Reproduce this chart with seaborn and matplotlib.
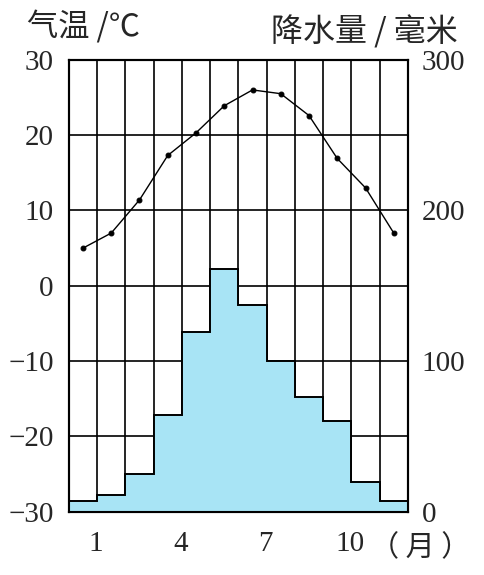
import numpy as np
import pandas as pd
import seaborn as sns
import matplotlib.pyplot as plt

# 月份、气温、降水量
months = [str(m) for m in range(1, 13)]
temp = [5.0, 7.0, 11.4, 17.3, 20.3, 23.9, 26.0, 25.5, 22.6, 16.9, 13.0, 7.0]
precip = [7, 11, 25, 64, 119, 161, 137, 100, 76, 60, 20, 7]
tick_months = ["1", "4", "7", "10"]
temp_ticks = [-30, -20, -10, 0, 10, 20, 30]
precip_ticks = [0, 100, 200, 300]

df = pd.DataFrame({"month": months, "temp": temp, "precip": precip})

sns.set_style("white")
plt.rcParams["font.family"] = ["Liberation Serif", "Noto Sans CJK SC"]

fig = plt.figure(figsize=(4.85, 5.75), dpi=100)
ax = fig.add_axes([0.142, 0.110, 0.699, 0.786])
ax2 = ax.twinx()

pos = np.arange(len(months))

# 网格线（在柱子下面）
for x in pos[:-1] + 0.5:
    ax.axvline(x, color="black", lw=1.2, zorder=0)
for t in temp_ticks[1:-1]:
    ax.axhline(t, color="black", lw=1.2, zorder=0)

# 降水柱
sns.barplot(data=df, x="month", y="precip", ax=ax2, color="#a8e4f5",
            saturation=1, width=1, edgecolor="none", linewidth=0)
ax2.stairs(df["precip"], edges=np.arange(len(months) + 1) - 0.5,
           color="black", lw=1.4, baseline=0)

# 气温曲线
sns.lineplot(x=pos, y=df["temp"], ax=ax, color="black", lw=1.0,
             marker="o", markersize=3.5, markeredgecolor="black")

ax.set_xlim(-0.5, len(months) - 0.5)
ax.set_ylim(-30, 30)
ax2.set_ylim(0, 300)

ax.set_yticks(temp_ticks)
ax2.set_yticks(precip_ticks)
ax.set_xticks([months.index(m) + 0.45 for m in tick_months])
ax.set_xticklabels(tick_months)
ax.set_xlabel("")
ax.set_ylabel("")
ax2.set_ylabel("")

ax.tick_params(axis="both", length=0, labelsize=21, pad=11)
ax2.tick_params(axis="y", length=0, labelsize=21, pad=10)
ax.tick_params(axis="x", pad=14)

for a in (ax, ax2):
    for s in a.spines.values():
        s.set_color("black")
        s.set_linewidth(1.5)

cjk = ["Noto Sans CJK SC", "DejaVu Sans"]
fig.text(0.055, 0.953, "气温 /℃", fontsize=22.5, family=cjk, va="center", ha="left")
fig.text(0.558, 0.944, "降水量 / 毫米", fontsize=23, family=cjk, va="center", ha="left")
fig.text(0.762, 0.046, "（ 月 ）", fontsize=21, family=cjk, va="center", ha="left")

fig.savefig("out.png", dpi=100)
